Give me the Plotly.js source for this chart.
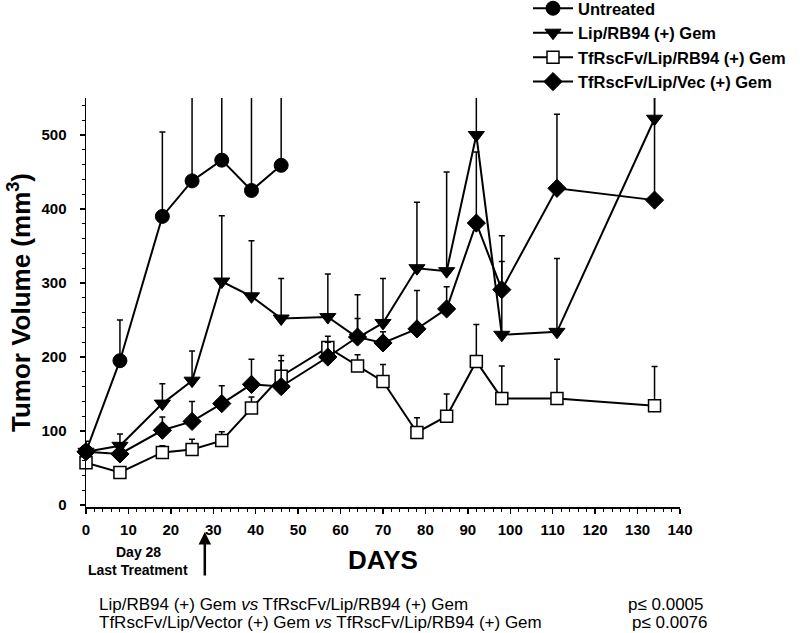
<!DOCTYPE html>
<html>
<head>
<meta charset="utf-8">
<script src="https://cdn.plot.ly/plotly-3.0.1.min.js"></script>
<style>
  html, body { margin: 0; padding: 0; background: #fff; }
  #chart { width: 800px; height: 633px; }
</style>
</head>
<body>
<div id="chart"></div>
<script>
// ---- Data ----
const daysUntreated = [0, 8, 18, 25, 32, 39, 46];
const untreated     = [72, 195, 390, 438, 466, 425, 459];
const untreatedErr  = [14, 55, 114, 180, 160, 170, 150];

const daysTreated = [0, 8, 18, 25, 32, 39, 46, 57, 64, 70, 78, 85, 92, 98, 111, 134];
const lipRB94     = [72, 80, 137, 168, 302, 282, 252, 254, 226, 246, 320, 316, 500, 230, 234, 522];
const lipRB94Err  = [8, 16, 27, 40, 89, 75, 54, 58, 58, 60, 89, 134, 100, 99, 99, 80];

const tfRB94      = [57, 44, 71, 75, 87, 131, 174, 213, 188, 167, 98, 120, 194, 144, 144, 134];
const tfRB94Err   = [5, 5, 9, 14, 12, 15, 28, 15, 15, 23, 20, 30, 50, 44, 53, 53];

const tfVec       = [72, 69, 101, 113, 137, 163, 160, 200, 227, 219, 238, 265, 381, 291, 428, 412];
const tfVecErr    = [5, 8, 18, 27, 24, 34, 35, 20, 25, 15, 52, 30, 96, 73, 100, 160];

const seriesNames = [
  'Untreated',
  'Lip/RB94 (+) Gem',
  'TfRscFv/Lip/RB94 (+) Gem',
  'TfRscFv/Lip/Vec (+) Gem'
];

const xTickVals = [0, 10, 20, 30, 40, 50, 60, 70, 80, 90, 100, 110, 120, 130, 140];
const yTickVals = [0, 100, 200, 300, 400, 500];

const statLines = [
  'Lip/RB94 (+) Gem <i>vs</i> TfRscFv/Lip/RB94 (+) Gem',
  'TfRscFv/Lip/Vector (+) Gem <i>vs</i> TfRscFv/Lip/RB94 (+) Gem'
];
const statP = ['p≤ 0.0005', 'p≤ 0.0076'];

// ---- Styling ----
const FONT = 'Liberation Sans, Arial, Helvetica, sans-serif';

function errBar(arr) {
  return { type: 'data', symmetric: false, array: arr, arrayminus: arr.map(() => 0),
           color: '#000', thickness: 1.5, width: 3 };
}

const common = { type: 'scatter', mode: 'lines+markers', cliponaxis: false,
                 line: { color: '#000', width: 2 } };

const traces = [
  Object.assign({}, common, {
    name: seriesNames[0], x: daysUntreated, y: untreated, error_y: errBar(untreatedErr),
    marker: { symbol: 'circle', size: 14, color: '#000', line: { color: '#000', width: 1 } }
  }),
  Object.assign({}, common, {
    name: seriesNames[1], x: daysTreated, y: lipRB94, error_y: errBar(lipRB94Err),
    marker: { symbol: 'triangle-down', size: 14, color: '#000', line: { color: '#000', width: 1 } }
  }),
  Object.assign({}, common, {
    name: seriesNames[2], x: daysTreated, y: tfRB94, error_y: errBar(tfRB94Err),
    marker: { symbol: 'square', size: 12, color: '#fff', line: { color: '#000', width: 1.5 } }
  }),
  Object.assign({}, common, {
    name: seriesNames[3], x: daysTreated, y: tfVec, error_y: errBar(tfVecErr),
    marker: { symbol: 'diamond', size: 14, color: '#000', line: { color: '#000', width: 1 } }
  })
];

const L = 86, R = 120, T = 98, B = 126;
const plotH = 633 - T - B;
const plotW = 800 - L - R;
const py = p => (633 - B - p) / plotH;   // pixel y -> paper y
const px = p => (p - L) / plotW;         // pixel x -> paper x

const layout = {
  width: 800, height: 633,
  margin: { l: L, r: R, t: T, b: B, pad: 0, autoexpand: false },
  paper_bgcolor: '#fff', plot_bgcolor: '#fff',
  font: { family: FONT, color: '#000' },
  showlegend: true,
  legend: {
    x: px(528), y: py(-9), xanchor: 'left', yanchor: 'top',
    font: { family: FONT, size: 16.5, weight: 'bold', color: '#000' },
    bgcolor: 'rgba(0,0,0,0)', borderwidth: 0, itemwidth: 40,
    tracegroupgap: 0, itemsizing: 'trace'
  },
  xaxis: {
    range: [0, 140], tickvals: xTickVals, ticktext: xTickVals.map(String),
    showgrid: false, zeroline: false, showline: true, linecolor: '#000', linewidth: 1.5,
    ticks: 'outside', ticklen: 5, tickwidth: 1.5, tickcolor: '#000',
    minor: { dtick: 2, ticks: 'outside', ticklen: 3, tickwidth: 1, tickcolor: '#000', showgrid: false },
    tickfont: { family: FONT, size: 15, weight: 'bold', color: '#000' },
    ticklabelstandoff: 3,
    title: { text: 'DAYS', standoff: 14, font: { family: FONT, size: 26, weight: 'bold', color: '#000' } }
  },
  yaxis: {
    range: [-2.7, 550], tickvals: yTickVals, ticktext: yTickVals.map(String),
    showgrid: false, zeroline: false, showline: true, linecolor: '#000', linewidth: 1.5,
    ticks: 'outside', ticklen: 5, tickwidth: 1.5, tickcolor: '#000',
    minor: { dtick: 20, ticks: 'outside', ticklen: 3, tickwidth: 1, tickcolor: '#000', showgrid: false },
    tickfont: { family: FONT, size: 15, weight: 'bold', color: '#000' },
    ticklabelstandoff: 10,
    title: { text: 'Tumor Volume (mm<sup>3</sup>)', standoff: 3,
             font: { family: FONT, size: 26, weight: 'bold', color: '#000' } }
  },
  annotations: [
    { xref: 'x', yref: 'paper', x: 28, y: py(532), text: '', showarrow: true,
      ax: 0, ay: 45, arrowhead: 2, arrowsize: 1, arrowwidth: 2.5, arrowcolor: '#000' },
    { xref: 'paper', yref: 'paper', x: px(138), y: py(552), text: 'Day 28', showarrow: false,
      xanchor: 'center', yanchor: 'middle',
      font: { family: FONT, size: 14, weight: 'bold', color: '#000' } },
    { xref: 'paper', yref: 'paper', x: px(138), y: py(570), text: 'Last Treatment', showarrow: false,
      xanchor: 'center', yanchor: 'middle',
      font: { family: FONT, size: 14, weight: 'bold', color: '#000' } },
    { xref: 'paper', yref: 'paper', x: px(97), y: py(604), text: statLines[0], showarrow: false,
      xanchor: 'left', yanchor: 'middle', font: { family: FONT, size: 17, color: '#000' } },
    { xref: 'paper', yref: 'paper', x: px(97), y: py(622), text: statLines[1], showarrow: false,
      xanchor: 'left', yanchor: 'middle', font: { family: FONT, size: 17, color: '#000' } },
    { xref: 'paper', yref: 'paper', x: px(626), y: py(604), text: statP[0], showarrow: false,
      xanchor: 'left', yanchor: 'middle', font: { family: FONT, size: 17, color: '#000' } },
    { xref: 'paper', yref: 'paper', x: px(630), y: py(622), text: statP[1], showarrow: false,
      xanchor: 'left', yanchor: 'middle', font: { family: FONT, size: 17, color: '#000' } }
  ]
};

Plotly.newPlot('chart', traces, layout, { staticPlot: true, displayModeBar: false });
</script>
</body>
</html>
